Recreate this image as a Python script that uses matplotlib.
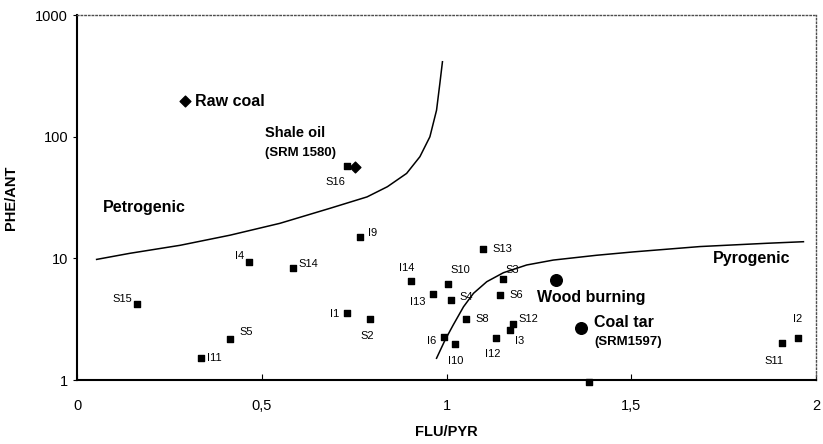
import numpy as np
import matplotlib.pyplot as plt
from matplotlib.ticker import FixedLocator, FixedFormatter

plt.rcParams['font.family'] = ['Liberation Sans', 'DejaVu Sans']

# sample points (FLU/PYR, PHE/ANT)
samples = ["S16", "I9", "I4", "S14", "S15", "I1", "S2", "S5", "I11", "I14", "S10",
           "I13", "S4", "S8", "I6", "I10", "S13", "S3", "S6", "S12", "I3", "I12",
           "I5", "S11", "I2"]
flu_pyr = [0.731, 0.766, 0.466, 0.585, 0.162, 0.731, 0.793, 0.414, 0.335, 0.904, 1.004,
           0.964, 1.012, 1.053, 0.993, 1.023, 1.099, 1.153, 1.145, 1.180, 1.172, 1.134,
           1.386, 1.908, 1.951]
phe_ant = [57, 15.0, 9.3, 8.3, 4.24, 3.57, 3.19, 2.17, 1.52, 6.5, 6.18,
           5.09, 4.54, 3.19, 2.27, 1.98, 12.0, 6.76, 5.02, 2.90, 2.58, 2.21,
           0.97, 2.01, 2.21]
# label offsets in pixels (dx, dy, ha)
label_off = [(-12, -16, "center"), (8, 4, "left"), (-10, 6, "center"), (5, 4, "left"),
             (-15, 5, "center"), (-8, -1, "right"), (-3, -17, "center"), (9, 7, "left"),
             (6, 0, "left"), (-4, 13, "center"), (12, 14, "center"), (-15, -8, "center"),
             (9, 3, "left"), (9, 0, "left"), (-8, -4, "right"), (1, -17, "center"),
             (9, 0, "left"), (2, 9, "left"), (9, 0, "left"), (5, 5, "left"),
             (5, -11, "left"), (-3, -16, "center"), (1, 19, "center"),
             (-8, -18, "center"), (0, 19, "center")]

# reference sources
raw_coal = (0.292, 196)
shale_oil = (0.752, 56)
wood_burning = (1.296, 6.63)
coal_tar = (1.364, 2.67)

# boundary curves
petro_x = [0.053, 0.143, 0.279, 0.414, 0.549, 0.685, 0.785, 0.84, 0.892, 0.928,
           0.955, 0.973, 0.982, 0.989]
petro_y = [9.8, 11.0, 12.8, 15.5, 19.4, 25.8, 32.0, 38.8, 49.9, 68.5,
           99.8, 165, 274, 413]
pyro_x = [0.973, 0.996, 1.018, 1.046, 1.073, 1.109, 1.154, 1.217, 1.289, 1.406,
          1.506, 1.686, 1.867, 1.966]
pyro_y = [1.51, 2.13, 2.83, 4.0, 5.16, 6.43, 7.62, 8.82, 9.68, 10.6,
          11.3, 12.5, 13.3, 13.7]

fig = plt.figure(figsize=(8.23, 4.44), dpi=100)
ax = fig.add_axes([0.0936, 0.1441, 0.8979, 0.8221])

ax.plot(petro_x, petro_y, "-k", lw=1.1)
ax.plot(pyro_x, pyro_y, "-k", lw=1.1)

ax.scatter(flu_pyr, phe_ant, marker="s", s=20, c="k", zorder=3, clip_on=False)
for name, xx, yy, (dx, dy, ha) in zip(samples, flu_pyr, phe_ant, label_off):
    ax.annotate(name, (xx, yy), xytext=(dx, dy), textcoords="offset pixels",
                ha=ha, va="center", fontsize=8)

ax.scatter(*raw_coal, marker="D", s=30, c="k", zorder=3)
ax.scatter(*shale_oil, marker="D", s=30, c="k", zorder=3)
ax.scatter(*wood_burning, marker="o", s=70, c="k", zorder=3)
ax.scatter(*coal_tar, marker="o", s=70, c="k", zorder=3)

bold = dict(fontweight="bold", va="center", ha="left")
ax.annotate("Raw coal", raw_coal, xytext=(10, 0), textcoords="offset pixels", fontsize=11.5, **bold)
ax.annotate("Shale oil", shale_oil, xytext=(-90, 34), textcoords="offset pixels", fontsize=10.5, **bold)
ax.annotate("(SRM 1580)", shale_oil, xytext=(-90, 14), textcoords="offset pixels", fontsize=9.5, **bold)
ax.annotate("Wood burning", wood_burning, xytext=(-19, -17), textcoords="offset pixels", fontsize=11.5, **bold)
ax.annotate("Coal tar", coal_tar, xytext=(13, 6), textcoords="offset pixels", fontsize=11.5, **bold)
ax.annotate("(SRM1597)", coal_tar, xytext=(13, -14), textcoords="offset pixels", fontsize=9.5, **bold)
ax.text(0.07, 26, "Petrogenic", fontsize=11.5, **bold)
ax.text(1.72, 10, "Pyrogenic", fontsize=11.5, **bold)

ax.set_yscale("log")
ax.set_xlim(0, 2)
ax.set_ylim(1, 1000)
ax.yaxis.set_major_locator(FixedLocator([1, 10, 100, 1000]))
ax.yaxis.set_major_formatter(FixedFormatter(["1", "10", "100", "1000"]))
ax.yaxis.set_minor_locator(FixedLocator([]))
ax.set_xticks([0, 0.5, 1, 1.5, 2])
ax.set_xticklabels(["0", "0,5", "1", "1,5", "2"])
ax.tick_params(axis="x", direction="in", length=4, labelsize=10.5, pad=14)
ax.tick_params(axis="y", direction="out", length=3, labelsize=10.5)

for side in ["left", "bottom"]:
    ax.spines[side].set_linewidth(1.5)
for side in ["top", "right"]:
    ax.spines[side].set_linestyle(":")
    ax.spines[side].set_color("0.3")
    ax.spines[side].set_linewidth(1.0)

ax.set_xlabel("FLU/PYR", fontweight="bold", fontsize=10.5, labelpad=8)
ax.set_ylabel("PHE/ANT", fontweight="bold", fontsize=10.5, labelpad=12)

fig.savefig("out.png", dpi=100)
